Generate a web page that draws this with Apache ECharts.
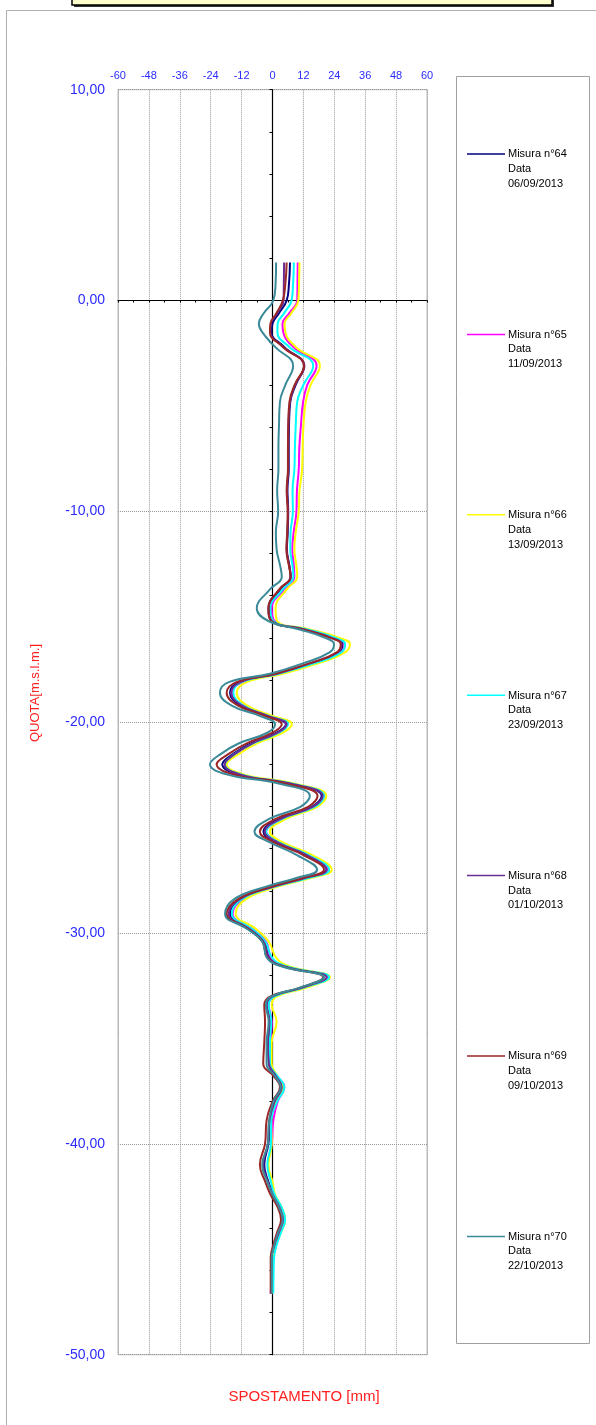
<!DOCTYPE html>
<html><head><meta charset="utf-8">
<script src="https://cdn.jsdelivr.net/npm/echarts@6/dist/echarts.min.js"></script>
<style>html,body{margin:0;padding:0;background:#fff}#c{width:596px;height:1425px}</style>
</head><body><div id="c"></div><script>
// depth (m s.l.m.) shared by all measurements
const depths = [1.8, 0.8, 0, -0.6, -1.1, -1.5, -2.2, -3.1, -4.0, -4.8,
  -6, -7, -8, -9, -10, -11, -11.8, -12.6, -13.1, -13.7,
  -14.6, -15.2, -15.6, -16.0, -16.3, -16.7, -17.2, -17.7, -18.1, -18.6,
  -19.2, -19.7, -20.1, -20.5, -21.0, -21.5, -22.0, -22.5, -22.9, -23.5,
  -24.0, -24.6, -25.2, -25.7, -26.3, -27.0, -27.4, -27.8, -28.4, -29.1,
  -29.8, -30.4, -31.2, -31.6, -32.1, -32.6, -33.0, -33.4, -34.2, -35.2,
  -36.2, -36.8, -37.3, -38.0, -38.9, -40.0, -41.0, -41.8, -42.4, -43.0,
  -43.6, -44.2, -44.8, -45.4, -46.3, -47.1];

// displacement [mm]
const m64 = [6.8, 6.4, 5.5, 2.5, 0.0, -0.4, 4.5, 12.2, 9.0, 6.9,
  6.4, 6.3, 6.3, 5.8, 6.1, 5.9, 5.6, 6.6, 7.0, 3.0,
  -1.0, 0.0, 13.0, 23.5, 27.2, 25.5, 15.5, 1.5, -13.0, -16.5,
  -12.5, -2.3, 5.2, 1.6, -8.5, -15.2, -19.5, -12.6, 6.0, 19.1,
  15.5, 2.5, -3.5, 1.6, 13.0, 21.0, 12.5, 0.3, -12.6, -16.5,
  -8.7, -3.3, -1.0, 5.5, 21.5, 11.5, 0.3, -2.3, -1.2, -1.6,
  -1.4, 1.6, 3.8, 1.0, -1.0, -1.6, -3.2, -1.6, 0.3, 2.9,
  4.2, 2.7, 1.0, -0.3, -0.3, -0.3];
const m65 = [9.8, 9.7, 9.6, 6.5, 3.9, 4.2, 8.0, 17.1, 13.5, 11.9,
  11.0, 10.4, 10.2, 9.5, 9.3, 8.2, 7.7, 8.3, 8.5, 4.5,
  -0.3, 0.8, 13.8, 24.8, 28.0, 26.5, 16.8, 2.8, -11.5, -15.9,
  -11.2, -1.3, 5.5, 2.5, -7.5, -14.2, -18.4, -11.3, 7.0, 20.0,
  16.5, 3.8, -2.5, 2.5, 14.0, 21.5, 13.3, 1.0, -11.5, -15.5,
  -7.8, -2.5, -0.3, 6.0, 21.5, 12.0, 0.8, -1.5, -0.3, -0.6,
  -0.8, 2.0, 4.6, 2.0, 0.3, -0.3, -1.8, -0.3, 0.6, 3.3,
  4.6, 3.0, 1.4, 0.3, -0.2, -0.7];
const m66 = [10.5, 10.3, 10.0, 7.3, 4.7, 5.0, 9.0, 18.4, 14.8, 12.9,
  12.0, 11.7, 11.5, 10.5, 10.2, 9.0, 8.5, 9.3, 9.6, 5.5,
  1.2, 1.8, 14.5, 26.0, 30.1, 28.0, 18.0, 4.0, -10.0, -13.9,
  -10.0, 0.0, 7.5, 4.0, -6.0, -13.0, -17.8, -10.5, 8.0, 20.9,
  17.5, 5.0, -1.0, 4.0, 15.5, 23.0, 14.5, 2.0, -10.5, -14.3,
  -6.5, -1.5, 1.6, 7.0, 22.3, 13.0, 1.8, -0.3, 1.6, -0.3,
  -0.3, 2.0, 4.0, 1.5, -0.5, -0.3, -1.6, 0.0, 1.0, 3.5,
  4.9, 3.3, 1.3, 0.3, 0.1, 0.0];
const m67 = [8.3, 8.0, 7.4, 4.5, 2.0, 1.9, 6.5, 15.8, 12.0, 9.6,
  9.0, 8.7, 8.5, 7.8, 7.9, 7.0, 6.9, 7.8, 8.1, 4.0,
  -0.8, 0.3, 13.5, 24.5, 28.2, 26.5, 16.5, 2.5, -12.0, -15.2,
  -11.5, -1.5, 6.0, 2.5, -7.5, -14.5, -18.5, -11.5, 7.0, 20.0,
  16.5, 3.5, -2.5, 2.5, 14.0, 22.0, 13.5, 1.0, -12.0, -15.8,
  -8.0, -2.8, 0.0, 6.0, 22.0, 12.0, 0.8, -1.5, -0.5, -1.0,
  -1.0, 2.0, 4.6, 1.8, -0.5, -0.6, -2.0, -0.6, 0.8, 3.5,
  4.9, 3.3, 1.6, 0.6, 0.4, 0.3];
const m68 = [4.5, 4.4, 4.3, 1.8, -0.6, -0.8, 4.2, 12.4, 8.8, 6.8,
  6.2, 6.1, 6.1, 5.6, 6.0, 5.8, 5.5, 6.5, 7.2, 2.8,
  -1.6, -0.3, 12.5, 23.0, 26.9, 25.2, 15.0, 1.8, -12.5, -16.0,
  -12.0, -1.8, 5.5, 2.0, -7.8, -14.5, -18.6, -12.0, 6.5, 19.5,
  15.8, 3.0, -3.0, 2.0, 13.3, 21.0, 12.3, 0.5, -12.8, -17.0,
  -9.0, -3.5, -1.3, 5.0, 21.0, 11.3, 0.0, -2.3, -1.2, -1.8,
  -1.4, 1.4, 3.6, 0.8, -1.2, -1.8, -3.6, -1.8, 0.0, 2.7,
  4.0, 2.5, 0.8, -0.3, -0.4, -0.5];
const m69 = [5.5, 5.0, 4.0, 1.5, -0.8, -1.0, 4.0, 12.2, 8.6, 6.6,
  6.1, 6.0, 6.0, 5.5, 5.9, 5.7, 5.4, 6.4, 7.0, 2.6,
  -1.6, -0.5, 12.0, 22.5, 26.5, 24.8, 14.5, 1.0, -14.0, -17.8,
  -13.5, -3.0, 3.6, 0.0, -10.0, -17.0, -21.7, -14.5, 4.5, 17.5,
  14.0, 1.0, -4.9, 0.5, 12.0, 20.0, 11.5, -0.5, -13.5, -17.8,
  -9.5, -4.0, -1.8, 4.5, 19.7, 10.5, -0.8, -3.2, -2.9, -3.2,
  -3.6, 0.5, 2.9, 0.0, -2.3, -2.9, -4.9, -2.8, -0.8, 2.0,
  3.3, 1.8, 0.3, -0.7, -0.7, -0.7];
const m70 = [1.4, 1.2, 0.3, -3.4, -5.3, -4.0, 1.0, 8.0, 5.0, 2.9,
  2.5, 2.3, 2.3, 1.8, 2.2, 1.3, 1.6, 3.0, 3.6, -1.0,
  -6.1, -1.6, 10.5, 20.5, 23.9, 22.0, 12.0, -1.0, -17.0, -20.4,
  -16.0, -5.0, 1.0, -2.0, -13.0, -20.0, -24.3, -17.0, 2.0, 14.5,
  11.0, -1.5, -7.0, -1.0, 9.5, 17.3, 9.0, -2.5, -15.0, -18.4,
  -10.0, -4.0, -2.0, 4.0, 20.0, 10.3, -0.5, -2.6, -1.5, -2.3,
  -2.3, 1.0, 3.2, 0.3, -1.3, -1.8, -4.0, -2.0, 0.0, 2.5,
  4.0, 2.2, 0.7, -0.3, -0.3, -0.3];

const measureNames = ['Misura n°64', 'Misura n°65', 'Misura n°66', 'Misura n°67', 'Misura n°68', 'Misura n°69', 'Misura n°70'];
const measureDates = ['06/09/2013', '11/09/2013', '13/09/2013', '23/09/2013', '01/10/2013', '09/10/2013', '22/10/2013'];
const measureValues = [m64, m65, m66, m67, m68, m69, m70];
const colors = ['#000080', '#ff00ff', '#ffff00', '#00ffff', '#6b2d90', '#9a2626', '#3a8a9a'];

const xMin = -60, xMax = 60, xStep = 12;
const yMin = -50, yMax = 10, yStep = 10;

const chart = echarts.init(document.getElementById('c'), null, {renderer: 'canvas'});

const series = measureValues.map((vals, i) => ({
  name: measureNames[i],
  type: 'line',
  xAxisIndex: 0, yAxisIndex: 0,
  data: vals.map((v, k) => [v, depths[k]]),
  smooth: 0.45,
  showSymbol: false,
  symbol: 'none',
  lineStyle: {color: colors[i], width: 2},
  itemStyle: {color: colors[i]},
  animation: false,
  z: 3 + i
}));

const graphics = [
  {type: 'rect', z: -10, shape: {x: 6.5, y: 10.5, width: 700, height: 1600}, style: {fill: 'none', stroke: '#b0b0b0', lineWidth: 1}},
  {type: 'rect', shape: {x: 74, y: -20, width: 480, height: 27}, style: {fill: '#333', stroke: 'none'}},
  {type: 'rect', shape: {x: 72, y: -20, width: 480, height: 25}, style: {fill: '#ffffcc', stroke: '#000', lineWidth: 1.5}},
  {type: 'rect', shape: {x: 456.5, y: 76.5, width: 133, height: 1267}, style: {fill: '#fff', stroke: '#a0a0a0', lineWidth: 1}},
  {type: 'text', x: 304, y: 1397, style: {text: 'SPOSTAMENTO [mm]', fill: '#ff2020', font: '15px "Liberation Sans", Arial, sans-serif', textAlign: 'center', textVerticalAlign: 'middle'}},
  {type: 'text', x: 35, y: 693, rotation: Math.PI / 2, style: {text: 'QUOTA[m.s.l.m.]', fill: '#ff2020', font: '13px "Liberation Sans", Arial, sans-serif', textAlign: 'center', textVerticalAlign: 'middle'}}
];
measureNames.forEach((n, i) => {
  const y = 154 + i * 180.4;
  graphics.push({type: 'line', shape: {x1: 467, y1: y, x2: 505, y2: y}, style: {stroke: colors[i], lineWidth: 1.5}});
  graphics.push({type: 'text', x: 508, y: y - 7, style: {text: n + '\nData\n' + measureDates[i], fill: '#000', font: '11px "Liberation Sans", Arial, sans-serif', lineHeight: 14.7, textVerticalAlign: 'top'}});
});

const fmtY = v => v.toFixed(2).replace('.', ',');

chart.setOption({
  animation: false,
  backgroundColor: '#fff',
  grid: {left: 118, right: 169, top: 89.7, bottom: 70.3, show: true, borderColor: '#b8b8b8', borderWidth: 1, containLabel: false},
  xAxis: [
    {type: 'value', min: xMin, max: xMax, interval: xStep, position: 'top',
      axisLine: {show: false}, axisTick: {show: false},
      axisLabel: {color: '#2b2bff', fontSize: 11, fontFamily: '"Liberation Sans", Arial, sans-serif', margin: 8},
      splitLine: {show: true, lineStyle: {color: '#999', type: 'dotted', width: 1}}},
    {type: 'value', min: xMin, max: xMax, interval: xStep / 2, position: 'bottom',
      axisLine: {show: true, onZero: true, lineStyle: {color: '#000', width: 1.2}},
      axisTick: {show: true, inside: false, length: 2, lineStyle: {color: '#000'}},
      axisLabel: {show: false}, splitLine: {show: false}}
  ],
  yAxis: [
    {type: 'value', min: yMin, max: yMax, interval: yStep, position: 'left',
      axisLine: {show: false}, axisTick: {show: false},
      axisLabel: {color: '#2b2bff', fontSize: 14, fontFamily: '"Liberation Sans", Arial, sans-serif', margin: 13, formatter: fmtY},
      splitLine: {show: true, lineStyle: {color: '#999', type: 'dotted', width: 1}}},
    {type: 'value', min: yMin, max: yMax, interval: 2, position: 'left',
      axisLine: {show: true, onZero: true, onZeroAxisIndex: 1, lineStyle: {color: '#000', width: 1.2}},
      axisTick: {show: true, length: 3, lineStyle: {color: '#000'}},
      axisLabel: {show: false}, splitLine: {show: false}}
  ],
  series: series,
  graphic: graphics
});
</script></body></html>
